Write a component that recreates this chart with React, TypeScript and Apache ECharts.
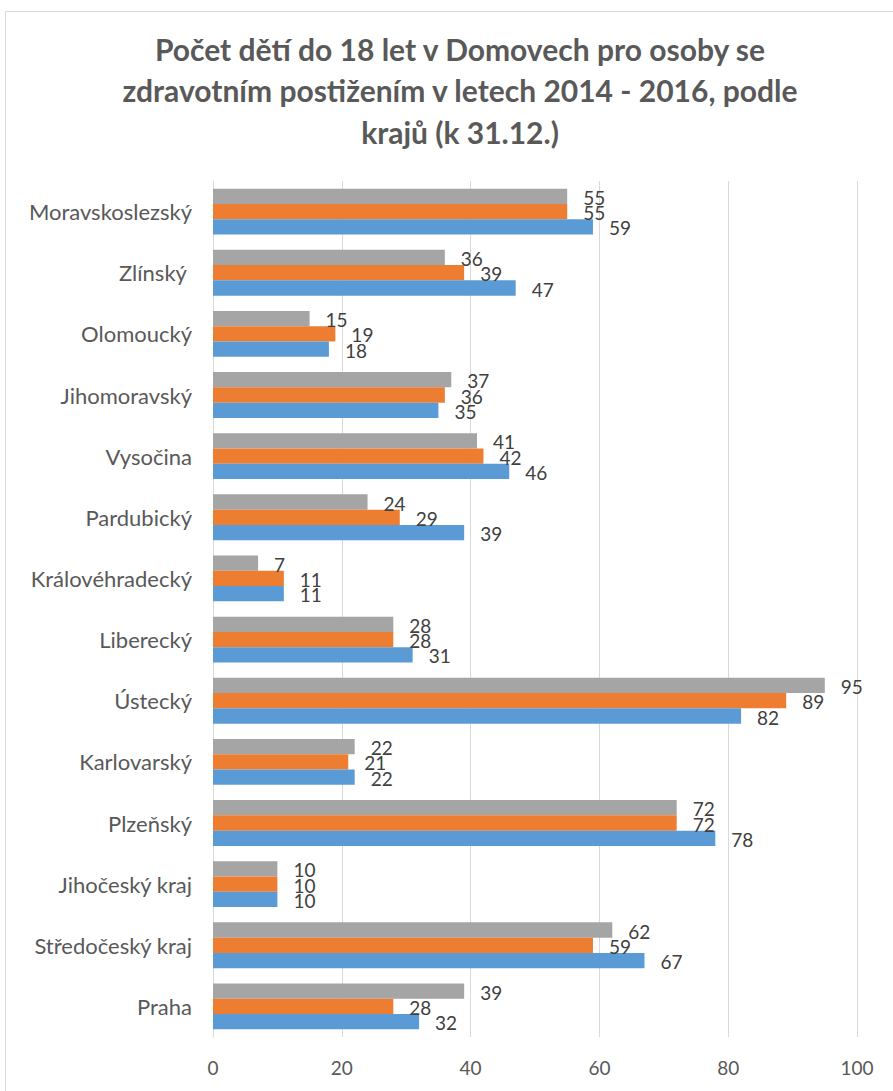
import React, { useEffect, useRef } from "react";
import * as echarts from "echarts";

const categories = [
  "Praha",
  "Středočeský kraj",
  "Jihočeský kraj",
  "Plzeňský",
  "Karlovarský",
  "Ústecký",
  "Liberecký",
  "Královéhradecký",
  "Pardubický",
  "Vysočina",
  "Jihomoravský",
  "Olomoucký",
  "Zlínský ",
  "Moravskoslezský",
];
const values2014 = [32, 67, 10, 78, 22, 82, 31, 11, 39, 46, 35, 18, 47, 59];
const values2015 = [28, 59, 10, 72, 21, 89, 28, 11, 29, 42, 36, 19, 39, 55];
const values2016 = [39, 62, 10, 72, 22, 95, 28, 7, 24, 41, 37, 15, 36, 55];
const seriesNames = ["2014", "2015", "2016"];
const xTicks = { min: 0, max: 100, interval: 20 };

const titleText =
  "Počet dětí do 18 let v Domovech pro osoby se\nzdravotním postižením v letech 2014 - 2016, podle\nkrajů (k 31.12.)";

const FONT = "Lato, 'Open Sans', sans-serif";

export default function App() {
  const ref = useRef<HTMLDivElement>(null);
  useEffect(() => {
    if (!ref.current) return;
    const chart = echarts.init(ref.current, null, { renderer: "svg" });
    const colors: Record<string, string> = {
      "2014": "#5B9BD5",
      "2015": "#ED7D31",
      "2016": "#A5A5A5",
    };
    const dataByName: Record<string, number[]> = {
      "2014": values2014,
      "2015": values2015,
      "2016": values2016,
    };
    // first series is drawn on top of each group: 2016, 2015, 2014
    const order = [seriesNames[2], seriesNames[1], seriesNames[0]];
    chart.setOption({
      animation: false,
      backgroundColor: "#ffffff",
      graphic: [
        {
          type: "rect",
          shape: { x: 5.5, y: 11.5, width: 1000, height: 1200 },
          style: { fill: "none", stroke: "#d9d9d9", lineWidth: 1 },
          silent: true,
        },
      ],
      title: {
        text: titleText,
        left: 455,
        textAlign: "center",
        top: 23,
        textStyle: {
          fontFamily: FONT,
          fontSize: 30,
          fontWeight: "bold",
          color: "#595959",
          lineHeight: 41.5,
        },
      },
      grid: { left: 213, right: 36, top: 181, bottom: 54, containLabel: false },
      xAxis: {
        type: "value",
        min: xTicks.min,
        max: xTicks.max,
        interval: xTicks.interval,
        axisLine: { show: false },
        axisTick: { show: false },
        splitLine: { show: true, lineStyle: { color: "#d9d9d9", width: 1 } },
        axisLabel: {
          margin: 21,
          fontFamily: FONT,
          fontSize: 19,
          color: "#595959",
        },
      },
      yAxis: {
        type: "category",
        data: categories,
        axisLine: { show: true, lineStyle: { color: "#d9d9d9", width: 1 } },
        axisTick: { show: false },
        axisLabel: {
          margin: 21,
          fontFamily: FONT,
          fontSize: 22,
          color: "#595959",
        },
      },
      series: order.map((name) => ({
        name,
        type: "bar",
        data: dataByName[name],
        barGap: "0%",
        barCategoryGap: "25%",
        itemStyle: { color: colors[name] },
        label: {
          show: true,
          position: "right",
          distance: 16,
          offset: [0, 1],
          fontFamily: FONT,
          fontSize: 19,
          color: "#404040",
        },
      })),
    });
    return () => chart.dispose();
  }, []);
  return (
    <div
      ref={ref}
      style={{ position: "fixed", left: 0, top: 0, width: 893, height: 1091 }}
    />
  );
}
